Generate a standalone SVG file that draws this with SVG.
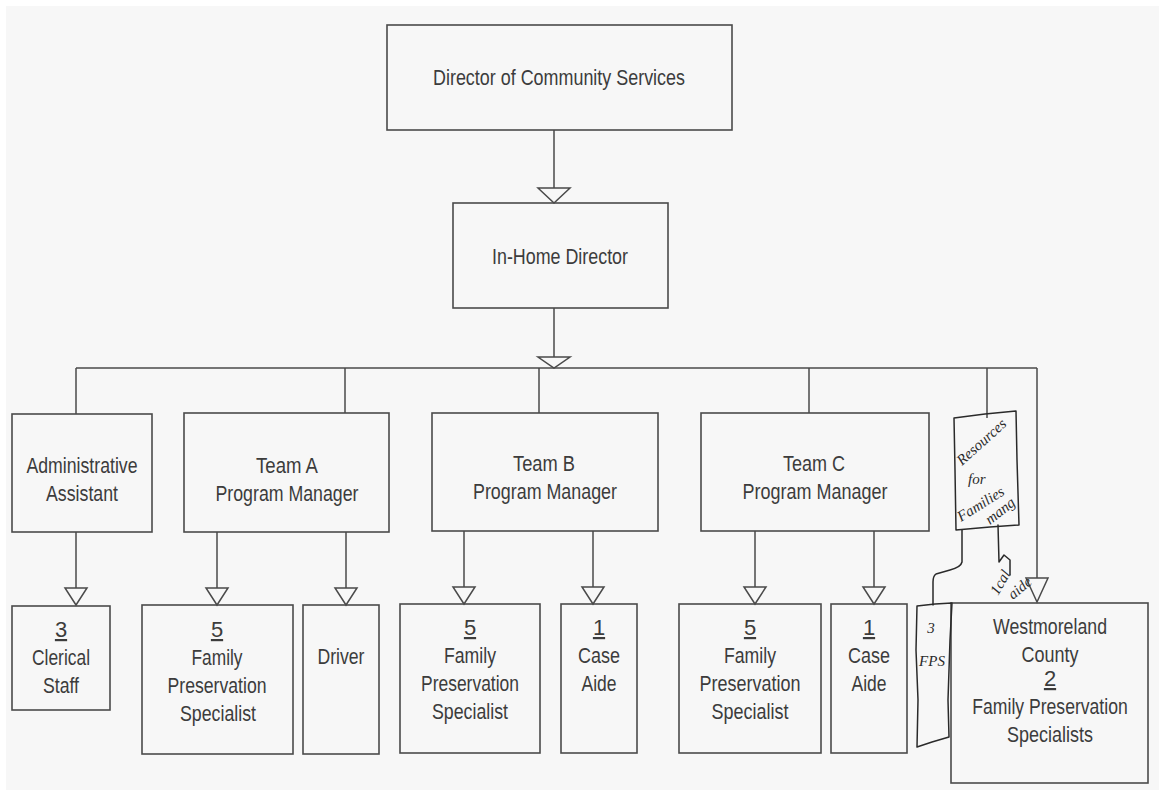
<svg xmlns="http://www.w3.org/2000/svg" width="1159" height="790" viewBox="0 0 1159 790">
<style>
.bg{fill:#f7f7f7}
.box{fill:none;stroke:#4a4a4a;stroke-width:1.6}
.ln{fill:none;stroke:#4a4a4a;stroke-width:1.5}
.tri{fill:#f7f7f7;stroke:#4a4a4a;stroke-width:1.5;stroke-linejoin:miter}
.t{font-family:"Liberation Sans",Arial,sans-serif;font-size:22px;fill:#3c3c3c;text-anchor:middle}
.u{text-decoration:underline}
.hw{fill:none;stroke:#2a2a2a;stroke-width:1.5;stroke-linejoin:round;stroke-linecap:round}
.h{font-family:"Liberation Serif","DejaVu Serif",serif;font-style:italic;font-size:15px;fill:#2a2a2a}
</style>
<rect width="1159" height="790" fill="#ffffff"/>
<rect class="bg" x="6" y="6" width="1153" height="784"/>

<g id="connectors">
  <line class="ln" x1="554" y1="130" x2="554" y2="188"/>
  <polygon class="tri" points="538,188 570,188 554,203"/>
  <line class="ln" x1="554" y1="308" x2="554" y2="357"/>
  <line class="ln" x1="76" y1="368" x2="1037" y2="368"/>
  <polygon class="tri" points="538,357 570,357 554,368"/>
  <line class="ln" x1="76" y1="368" x2="76" y2="414"/>
  <line class="ln" x1="345" y1="368" x2="345" y2="413"/>
  <line class="ln" x1="539" y1="368" x2="539" y2="413"/>
  <line class="ln" x1="809" y1="368" x2="809" y2="413"/>
  <line class="ln" x1="987" y1="368" x2="987" y2="418"/>
  <line class="ln" x1="1037" y1="368" x2="1037" y2="578"/>
  <polygon class="tri" points="1026,578 1048,578 1037,602"/>

  <line class="ln" x1="76" y1="532" x2="76" y2="588"/>
  <polygon class="tri" points="65,588 87,588 76,605"/>
  <line class="ln" x1="217" y1="532" x2="217" y2="588"/>
  <polygon class="tri" points="206,588 228,588 217,605"/>
  <line class="ln" x1="346" y1="532" x2="346" y2="588"/>
  <polygon class="tri" points="335,588 357,588 346,605"/>
  <line class="ln" x1="464" y1="531" x2="464" y2="587"/>
  <polygon class="tri" points="453,587 475,587 464,604"/>
  <line class="ln" x1="593" y1="531" x2="593" y2="587"/>
  <polygon class="tri" points="582,587 604,587 593,604"/>
  <line class="ln" x1="755" y1="531" x2="755" y2="587"/>
  <polygon class="tri" points="744,587 766,587 755,604"/>
  <line class="ln" x1="874" y1="531" x2="874" y2="587"/>
  <polygon class="tri" points="863,587 885,587 874,604"/>

  <path class="hw" d="M962,530 L962,562 Q961,567 950,570 L936,574 Q933,576 933,582 L933,605"/>
  <path class="hw" d="M998,525 L999,562 L1004,555 L1010,560 L1010,575"/>
</g>

<g id="director">
  <rect class="box" x="387" y="25" width="345" height="105"/>
  <text class="t" x="559" y="85" font-size="23" textLength="252" lengthAdjust="spacingAndGlyphs">Director of Community Services</text>
</g>

<g id="inhome">
  <rect class="box" x="453" y="203" width="215" height="105"/>
  <text class="t" x="560" y="264" textLength="136" lengthAdjust="spacingAndGlyphs">In-Home Director</text>
</g>

<g id="admin">
  <rect class="box" x="12" y="414" width="140" height="118"/>
  <text class="t" x="82" y="473" textLength="111" lengthAdjust="spacingAndGlyphs">Administrative</text>
  <text class="t" x="82" y="501" textLength="72" lengthAdjust="spacingAndGlyphs">Assistant</text>
</g>

<g id="teamA">
  <rect class="box" x="184" y="413" width="205" height="119"/>
  <text class="t" x="287" y="473" textLength="62" lengthAdjust="spacingAndGlyphs">Team A</text>
  <text class="t" x="287" y="501" textLength="143" lengthAdjust="spacingAndGlyphs">Program Manager</text>
</g>

<g id="teamB">
  <rect class="box" x="432" y="413" width="226" height="118"/>
  <text class="t" x="544" y="471" textLength="62" lengthAdjust="spacingAndGlyphs">Team B</text>
  <text class="t" x="545" y="499" textLength="144" lengthAdjust="spacingAndGlyphs">Program Manager</text>
</g>

<g id="teamC">
  <rect class="box" x="701" y="413" width="228" height="118"/>
  <text class="t" x="814" y="471" textLength="62" lengthAdjust="spacingAndGlyphs">Team C</text>
  <text class="t" x="815" y="499" textLength="145" lengthAdjust="spacingAndGlyphs">Program Manager</text>
</g>

<g id="clerical">
  <rect class="box" x="12" y="606" width="98" height="104"/>
  <text class="t u" x="61" y="637">3</text>
  <text class="t" x="61" y="665" textLength="58" lengthAdjust="spacingAndGlyphs">Clerical</text>
  <text class="t" x="61" y="693" textLength="36" lengthAdjust="spacingAndGlyphs">Staff</text>
</g>

<g id="fpsA">
  <rect class="box" x="142" y="605" width="151" height="149"/>
  <text class="t u" x="217" y="637">5</text>
  <text class="t" x="217" y="665" textLength="51" lengthAdjust="spacingAndGlyphs">Family</text>
  <text class="t" x="217" y="693" textLength="99" lengthAdjust="spacingAndGlyphs">Preservation</text>
  <text class="t" x="218" y="721" textLength="76" lengthAdjust="spacingAndGlyphs">Specialist</text>
</g>

<g id="driver">
  <rect class="box" x="303" y="605" width="76" height="149"/>
  <text class="t" x="341" y="664" textLength="47" lengthAdjust="spacingAndGlyphs">Driver</text>
</g>

<g id="fpsB">
  <rect class="box" x="400" y="604" width="140" height="149"/>
  <text class="t u" x="470" y="635">5</text>
  <text class="t" x="470" y="663" textLength="52" lengthAdjust="spacingAndGlyphs">Family</text>
  <text class="t" x="470" y="691" textLength="98" lengthAdjust="spacingAndGlyphs">Preservation</text>
  <text class="t" x="470" y="719" textLength="76" lengthAdjust="spacingAndGlyphs">Specialist</text>
</g>

<g id="caseB">
  <rect class="box" x="561" y="604" width="76" height="149"/>
  <text class="t u" x="599" y="635">1</text>
  <text class="t" x="599" y="663" textLength="42" lengthAdjust="spacingAndGlyphs">Case</text>
  <text class="t" x="599" y="691" textLength="35" lengthAdjust="spacingAndGlyphs">Aide</text>
</g>

<g id="fpsC">
  <rect class="box" x="679" y="604" width="142" height="149"/>
  <text class="t u" x="750" y="635">5</text>
  <text class="t" x="750" y="663" textLength="52" lengthAdjust="spacingAndGlyphs">Family</text>
  <text class="t" x="750" y="691" textLength="101" lengthAdjust="spacingAndGlyphs">Preservation</text>
  <text class="t" x="750" y="719" textLength="77" lengthAdjust="spacingAndGlyphs">Specialist</text>
</g>

<g id="caseC">
  <rect class="box" x="831" y="604" width="76" height="149"/>
  <text class="t u" x="869" y="635">1</text>
  <text class="t" x="869" y="663" textLength="42" lengthAdjust="spacingAndGlyphs">Case</text>
  <text class="t" x="869" y="691" textLength="35" lengthAdjust="spacingAndGlyphs">Aide</text>
</g>

<g id="westmoreland">
  <rect class="box" x="951" y="603" width="197" height="180"/>
  <text class="t" x="1050" y="634" textLength="114" lengthAdjust="spacingAndGlyphs">Westmoreland</text>
  <text class="t" x="1050" y="662" textLength="57" lengthAdjust="spacingAndGlyphs">County</text>
  <text class="t u" x="1050" y="686">2</text>
  <text class="t" transform="translate(1050,714) scale(0.8,1)">Family Preservation</text>
  <text class="t" x="1050" y="742" textLength="86" lengthAdjust="spacingAndGlyphs">Specialists</text>
</g>

<g id="resources">
  <path class="hw" d="M954,418 L985,414 L1016,411 L1017,460 L1019,525 L990,527 L956,530 L955,470 Z"/>
  <text class="h" transform="translate(962,466) rotate(-42)" font-size="17">Resources</text>
  <text class="h" x="968" y="484" font-size="17">for</text>
  <text class="h" transform="translate(961,522) rotate(-32)" font-size="17">Families</text>
  <text class="h" transform="translate(990,525) rotate(-38)" font-size="14">mang</text>
</g>

<g id="fps3">
  <path class="hw" d="M917,606 L935,604 L952,603 L950,640 L948,700 L949,737 L932,742 L917,747 L918,700 L916,650 Z"/>
  <text class="h" x="931" y="633" font-size="20" text-anchor="middle">3</text>
  <text class="h" x="932" y="666" font-size="14" text-anchor="middle">FPS</text>
</g>

<g id="caseaide-note">
  <text class="h" transform="translate(998,596) rotate(-60)" font-size="12">1cal</text>
  <text class="h" transform="translate(1013,600) rotate(-40)" font-size="10">aide</text>
</g>
</svg>
